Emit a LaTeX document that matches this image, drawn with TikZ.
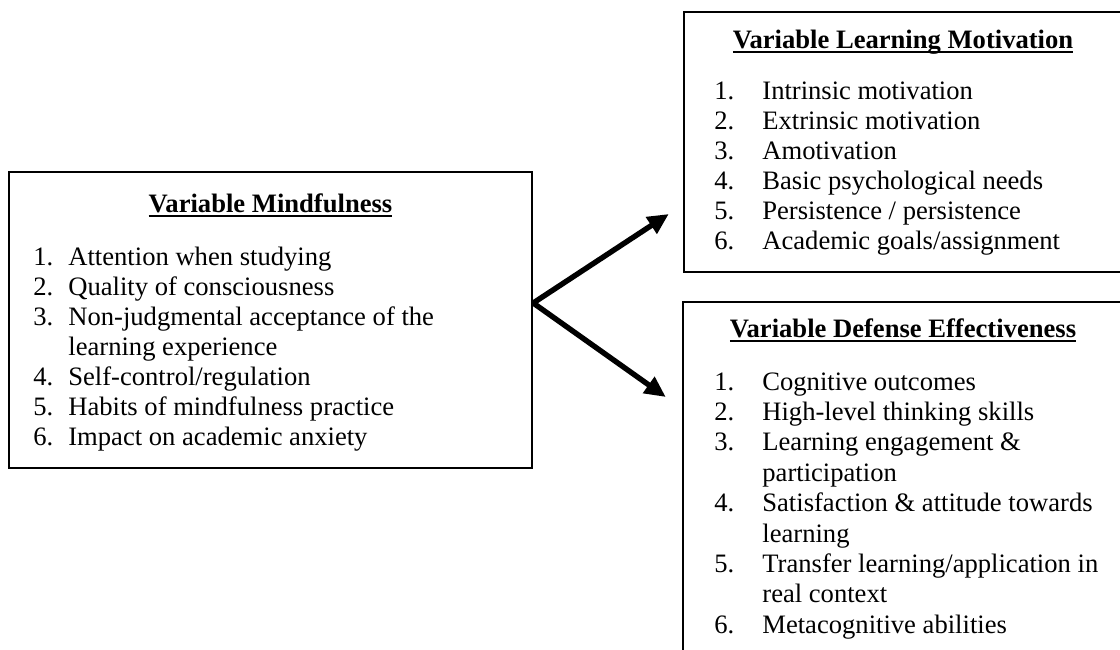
\documentclass[tikz,border=0pt]{standalone}
\usepackage{fontspec}
\setmainfont{Liberation Serif}
\usetikzlibrary{arrows.meta}
\newcommand\tul[1]{\setbox0\hbox{\bfseries #1}\hbox{\rlap{\copy0}\smash{\raisebox{-2.4pt}{\rule{\wd0}{0.9pt}}}}}
\begin{document}
\begin{tikzpicture}[x=0.5pt,y=-0.5pt,
  box/.style={draw, line width=1.2pt, inner sep=0, rectangle},
  title/.style={anchor=base, inner sep=0, font=\fontsize{13.3}{15}\selectfont},
  list/.style={anchor=base west, inner sep=0, font=\fontsize{13.3}{15}\selectfont},
  link/.style={line width=2.7pt, -{Triangle[length=10.5pt,width=9.5pt]}}]
\clip (0,0) rectangle (1120,649);
% boxes
\node[box, minimum width=261.5pt, minimum height=148pt] (L) at (270.5,320) {};
\node[box, minimum width=219pt, minimum height=130pt] (U) at (903,142) {};
\node[box, minimum width=219.5pt, minimum height=199pt] (D) at (902.5,501) {};
% titles
\node[title] (Lt) at (270.5,212) {\tul{Variable Mindfulness}};
\node[title] (Ut) at (903,48) {\tul{Variable Learning Motivation}};
\node[title] (Dt) at (903,337) {\tul{Variable Defense Effectiveness}};
% lists
\node[list] (Ll) at (33,265) {\begin{tabular}[t]{@{}p{17.5pt}@{}l@{}}
1.&Attention when studying\\
2.&Quality of consciousness\\
3.&Non-judgmental acceptance of the\\
 &learning experience\\
4.&Self-control/regulation\\
5.&Habits of mindfulness practice\\
6.&Impact on academic anxiety
\end{tabular}};
\node[list] (Ul) at (714,99) {\begin{tabular}[t]{@{}p{24pt}@{}l@{}}
1.&Intrinsic motivation\\
2.&Extrinsic motivation\\
3.&Amotivation\\
4.&Basic psychological needs\\
5.&Persistence / persistence\\
6.&Academic goals/assignment
\end{tabular}};
\node[list, font=\fontsize{13.3}{15.2}\selectfont] (Dl) at (714,390) {\begin{tabular}[t]{@{}p{24pt}@{}l@{}}
1.&Cognitive outcomes\\
2.&High-level thinking skills\\
3.&Learning engagement \&\\
 &participation\\
4.&Satisfaction \& attitude towards\\
 &learning\\
5.&Transfer learning/application in\\
 &real context\\
6.&Metacognitive abilities
\end{tabular}};
% arrows
\coordinate (apex) at ([yshift=8.5pt]L.east);
\coordinate (tipU) at ([xshift=-7pt,yshift=-36pt]U.west);
\coordinate (tipD) at ([xshift=-8pt]D.west |- 0,397);
\draw[link] (apex) -- (tipU);
\draw[link] (apex) -- (tipD);
\end{tikzpicture}
\end{document}
